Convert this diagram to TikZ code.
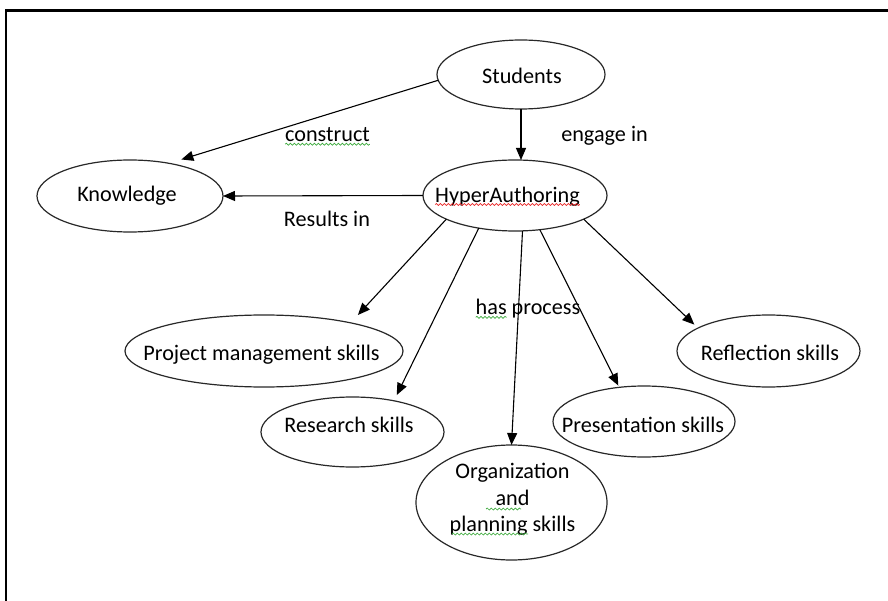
\documentclass[tikz,border=0pt]{standalone}
\usepackage{fontspec}
\setmainfont{Carlito}
\usetikzlibrary{shapes.geometric,arrows.meta,decorations.pathmorphing}
\definecolor{ellgray}{RGB}{40,40,40}
\definecolor{sqgreen}{RGB}{60,170,60}
\definecolor{sqred}{RGB}{235,40,40}
\begin{document}
\begin{tikzpicture}[x=1pt,y=-1pt,
  every node/.style={font=\fontsize{22.2pt}{26.5pt}\selectfont, inner sep=0pt, outer sep=0pt},
  ell/.style={ellipse, draw=ellgray, line width=1.2pt, fill=white},
  txt/.style={text height=14pt, text depth=0pt},
  arr/.style={line width=1.1pt, -{Triangle[length=12pt,width=10pt]}},
  gsq/.style={draw=sqgreen, line width=0.7pt, decorate, decoration={snake, amplitude=1pt, segment length=4pt}},
  rsq/.style={gsq, draw=sqred},
]
\fill[white] (0,0) rectangle (888,601);
\useasboundingbox (0,0) rectangle (888,601);

% frame
\draw[line width=2.6pt, line join=miter] (6,601) -- (6,10.5) -- (888,10.5);

% ellipses
\node[ell, minimum width=168pt, minimum height=69pt,
  label={[txt, name=stut, xshift=1pt, yshift=-2.5pt]center:Students}] (stu) at (521,74.5) {};
\node[ell, minimum width=186pt, minimum height=72pt,
  label={[txt, name=knot, xshift=-3pt, yshift=1pt]center:Knowledge}] (kno) at (130,196) {};
\node[ell, minimum width=184pt, minimum height=71pt,
  label={[txt, name=hat, xshift=-7.5pt, yshift=0pt]center:HyperAuthoring}] (ha) at (515,195.5) {};
\node[ell, minimum width=278pt, minimum height=72pt,
  label={[txt, name=pmt, xshift=-2.5pt, yshift=-2pt]center:Project management skills}] (pm) at (264,351) {};
\node[ell, minimum width=183pt, minimum height=70pt,
  label={[txt, name=rest, xshift=-3.5pt, yshift=6.5pt]center:Research skills}] (res) at (352.5,432) {};
\node[ell, minimum width=191pt, minimum height=115pt,
  label={[name=orgt, align=center, xshift=1pt, yshift=3pt]center:Organization\\and\hspace*{20pt}\\planning skills}] (org) at (511.5,502.5) {};
\node[ell, minimum width=182pt, minimum height=71pt,
  label={[txt, name=pret, xshift=-1pt, yshift=-3.5pt]center:Presentation skills}] (pre) at (644,421.5) {};
\node[ell, minimum width=183pt, minimum height=72pt,
  label={[txt, name=reft, xshift=1.5pt, yshift=-2pt]center:Reflection skills}] (ref) at (768.5,351) {};

% connectors
\draw[arr, shorten >=13pt] (stu.184) -- (kno.40);
\draw[arr] (stu.south) -- (stu.south |- ha.north);
\draw[arr] (ha.west) -- (kno.east);
\draw[arr, shorten >=10.7pt] (ha.199) -- (pm.18);
\draw[arr, shorten >=6.4pt] (ha.222) -- (res.37);
\draw[arr] (ha.282) -- (org.north);
\draw[arr, shorten >=2pt] (ha.306) -- (pre.126);
\draw[arr, shorten >=5pt] (ha.341) -- (ref.162);

% connector labels
\node[anchor=base] (lc) at (327.5,141.7) {construct};
\node[anchor=base] (le) at (604.5,141.7) {engage in};
\node[anchor=base] (lr) at (327,226.7) {Results in};
\node[anchor=base] (lh) at (528,314.3) {has process};

% spell-check squiggles
\draw[gsq] ([yshift=-2.5pt]lc.base west) -- ([yshift=-2.5pt]lc.base east);
\draw[gsq] ([yshift=-3pt]lh.base west) -- ++(31,0);
\draw[rsq] ([yshift=-2pt]hat.base west) -- ([yshift=-2pt]hat.base east);
\draw[gsq] (486,509) -- (521,509);
\draw[gsq] (452,534) -- (528,534);
\end{tikzpicture}
\end{document}
